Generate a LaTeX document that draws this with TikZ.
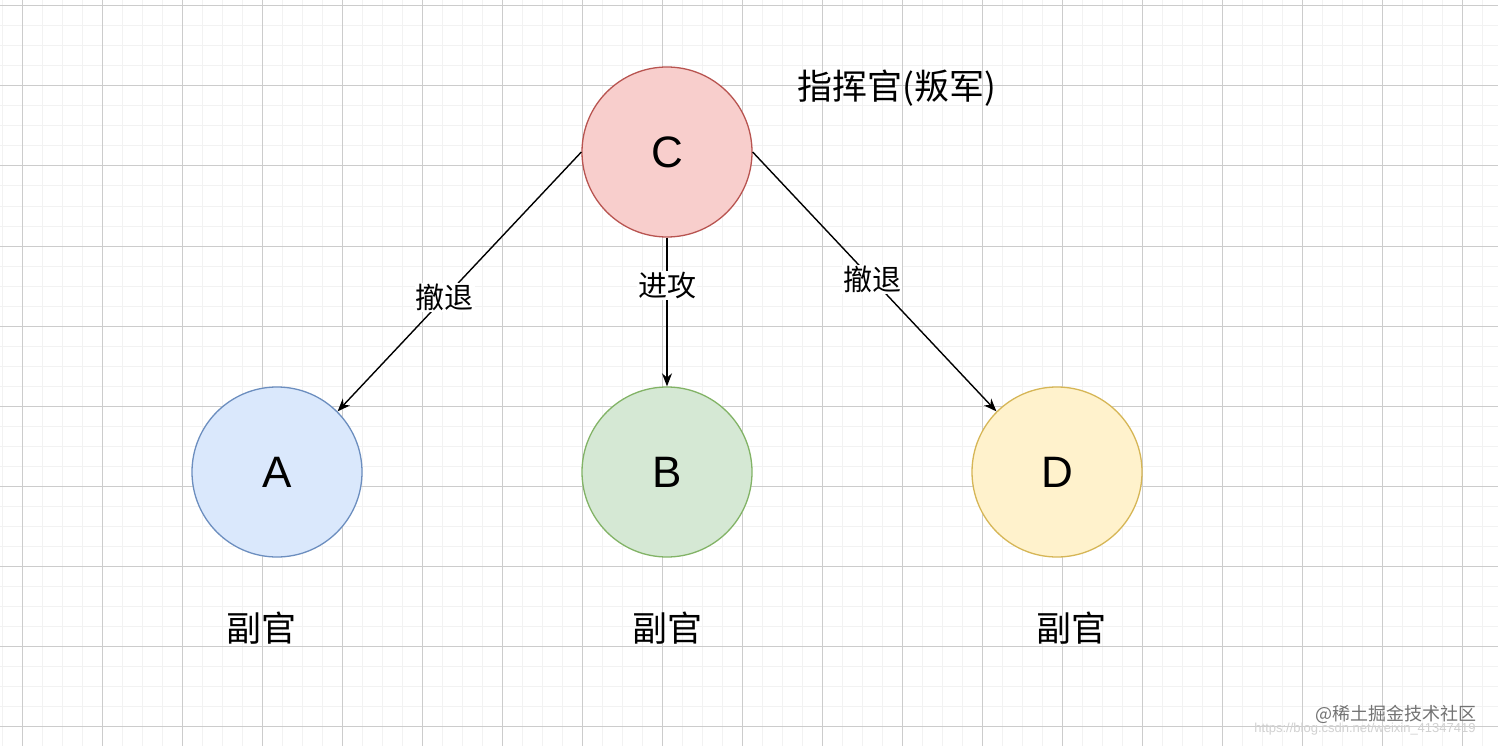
\documentclass[tikz,border=0pt]{standalone}
\usepackage{fontspec}
\usetikzlibrary{arrows.meta}
\setmainfont{Liberation Sans}
\newfontfamily\cjk{Noto Sans CJK SC}
\begin{document}
\begin{tikzpicture}[x=1pt,y=-1pt,
  circ/.style={circle,minimum size=170pt,inner sep=0pt,line width=1.3pt,font=\fontsize{44}{44}\selectfont},
  lbl/.style={font=\cjk\fontsize{29}{29}\selectfont,fill=white,inner sep=1pt},
  txt/.style={font=\cjk\fontsize{35}{35}\selectfont},
  arr/.style={-{Stealth[length=13pt,width=10pt]},line width=1.4pt}]
\useasboundingbox (0,0) rectangle (1498,746);
\fill[white] (0,0) rectangle (1498,746);
\foreach \x in {2,22,...,1498} \draw[black!5,line width=1pt] (\x,0) -- (\x,746);
\foreach \y in {6,26,...,746} \draw[black!5,line width=1pt] (0,\y) -- (1498,\y);
\foreach \x in {22,102,...,1498} \draw[black!20,line width=1pt] (\x,0) -- (\x,746);
\foreach \y in {6,86,...,746} \draw[black!20,line width=1pt] (0,\y) -- (1498,\y);
\node[circ,draw={rgb,255:red,184;green,84;blue,80},fill={rgb,255:red,248;green,206;blue,204}] (C) at (667,152) {C};
\node[circ,draw={rgb,255:red,108;green,142;blue,191},fill={rgb,255:red,218;green,232;blue,252}] (A) at (277,472) {A};
\node[circ,draw={rgb,255:red,130;green,179;blue,102},fill={rgb,255:red,213;green,232;blue,212}] (B) at (667,472) {B};
\node[circ,draw={rgb,255:red,214;green,182;blue,86},fill={rgb,255:red,255;green,242;blue,204}] (D) at (1057,472) {D};
\draw[arr] (C.west) -- node[lbl,pos=0.56] {撤退} (A.north east);
\draw[arr] (C.south) -- node[lbl,pos=0.32] {进攻} (B.north);
\draw[arr] (C.east) -- node[lbl,pos=0.49] {撤退} (D.north west);
\node[txt] (t) at (897,88) {指挥官(叛军)};
\node[txt] (sa) at (261,628) {副官};
\node[txt] (sb) at (667,628) {副官};
\node[txt] (sd) at (1071,628) {副官};
\node[font=\cjk\fontsize{18}{18}\selectfont,text=black!55] (w) at (1396,714) {@稀土掘金技术社区};
\node[font=\fontsize{13}{13}\selectfont,text=black!18] (u) at (1365,729) {https://blog.csdn.net/weixin\_41347419};
\end{tikzpicture}
\end{document}
